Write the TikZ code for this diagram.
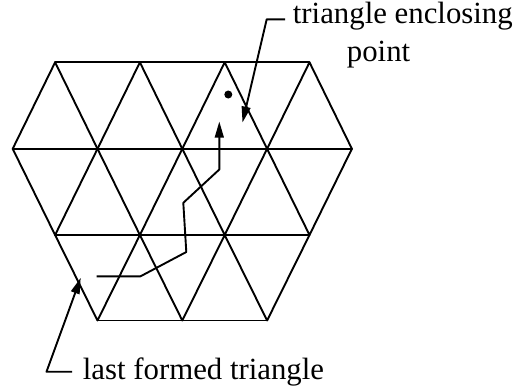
\documentclass[tikz,border=0pt]{standalone}
\usepackage{fontspec}
\setmainfont{Liberation Serif}
\usetikzlibrary{arrows.meta}
\begin{document}
\begin{tikzpicture}[x=0.5pt,y=-0.5pt,
  mesh/.style={line width=0.95pt, line join=round, line cap=round},
  arr/.style={line width=0.95pt, line join=round, -{Triangle[length=8pt,width=4.4pt]}},
  lbl/.style={inner sep=0pt, font=\fontsize{15.4pt}{19pt}\selectfont}]
\useasboundingbox (0,0) rectangle (515,388);
% lattice vertices
\foreach \i/\x in {1/55.1,2/139.9,3/224.7,4/309.5}{
  \coordinate (T\i) at (\x,62.3);
  \coordinate (R\i) at (\x,235);}
\foreach \i/\x in {0/12.7,1/97.5,2/182.3,3/267.1,4/351.9}{
  \coordinate (M\i) at (\x,148.8);}
\foreach \i/\x in {1/97.5,2/182.3,3/267.1}{
  \coordinate (B\i) at (\x,320.5);}
% horizontal edges
\draw[mesh] (T1) -- (T4);
\draw[mesh] (M0) -- (M4);
\draw[mesh] (R1) -- (R4);
\draw[mesh] (B1) -- (B3);
% diagonals
\foreach \i [evaluate=\i as \j using int(\i-1)] in {1,2,3,4}{
  \draw[mesh] (M\j) -- (T\i) -- (M\i);
  \draw[mesh] (M\j) -- (R\i) -- (M\i);}
\draw[mesh] (R1) -- (B1) -- (R2) -- (B2) -- (R3) -- (B3) -- (R4);
% point
\node[circle, fill=black, inner sep=0pt, minimum size=4pt] (pt) at (228.3,94.5) {};
% walk path
\coordinate (w0) at (96.5,276.3);
\coordinate (w1) at (140.5,276.3);
\coordinate (w2) at (186.3,252);
\coordinate (w3) at (183.3,202.8);
\coordinate (w4) at (219.3,169.5);
\coordinate (w5) at (219.3,121.5);
\draw[arr] (w0) -- (w1) -- (w2) -- (w3) -- (w4) -- (w5);
% labels
\node[lbl, anchor=base west] (enc) at (292.5,23) {triangle enclosing};
\node[lbl, anchor=base west] (encp) at (346.5,61) {point};
\node[lbl, anchor=base west] (last) at (82.5,379.5) {last formed triangle};
% leaders
\coordinate (a0) at (285,19.3);
\coordinate (a1) at (266.7,19.3);
\coordinate (a2) at (242.5,122.5);
\draw[arr] (a0) -- (a1) -- (a2);
\coordinate (b0) at (72,371.7);
\coordinate (b1) at (46.5,371.7);
\coordinate (b2) at (80.7,277.8);
\draw[arr] (b0) -- (b1) -- (b2);
\end{tikzpicture}
\end{document}
